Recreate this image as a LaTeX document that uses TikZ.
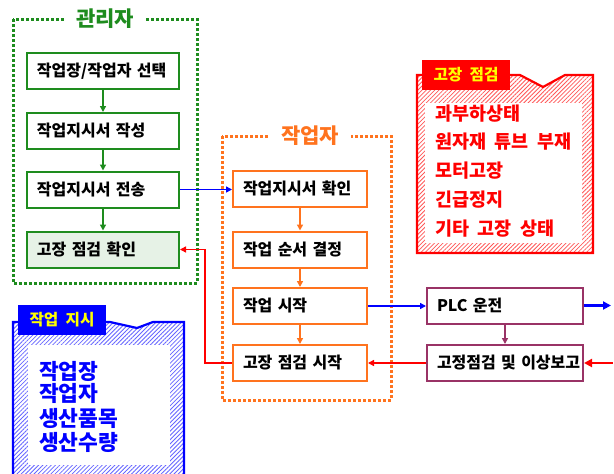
\documentclass[tikz,border=0pt]{standalone}
\usepackage{fontspec}
\newfontfamily\kr{Noto Sans CJK KR}[WordSpace=2]
\usetikzlibrary{arrows.meta,patterns.meta}
\definecolor{mgr}{RGB}{30,140,30}
\definecolor{wrk}{RGB}{255,115,30}
\definecolor{plcc}{RGB}{153,51,102}
\definecolor{rd}{RGB}{255,0,0}
\definecolor{bl}{RGB}{0,0,255}
\definecolor{yl}{RGB}{255,255,0}
\tikzset{
  boxtext/.style={font=\kr\bfseries\fontsize{16}{19}\selectfont},
  stepbox/.style={draw=#1, line width=2pt, fill=white, minimum height=36pt,
    inner xsep=10pt, inner ysep=0pt, align=left, boxtext},
  mbox/.style={stepbox=mgr, text width=132pt},
  wbox/.style={stepbox=wrk, text width=114pt},
  pbox/.style={stepbox=plcc, text width=136pt},
  grp/.style={draw=#1, line width=3pt, dash pattern=on 3pt off 2pt},
  grptitle/.style={fill=white, text=#1, inner xsep=12pt, inner ysep=1pt,
    font=\kr\bfseries\fontsize{21}{24}\selectfont},
  tip/.style={-{Triangle[length=6pt,width=6pt]}},
  conn/.style={#1, line width=1.6pt, tip},
  thick conn/.style={#1, line width=2.6pt, -{Triangle[length=8pt,width=8pt]}},
  tabbox/.style={fill=#1, inner sep=0pt, text=yl,
    font=\kr\bfseries\fontsize{15.7}{18}\selectfont},
  redtext/.style={anchor=west, text=rd, inner sep=0pt,
    font=\kr\bfseries\fontsize{18.5}{21}\selectfont},
  bluetext/.style={anchor=west, text=bl, inner sep=0pt,
    font=\kr\bfseries\fontsize{21.5}{24}\selectfont},
}
\begin{document}
\begin{tikzpicture}[x=1pt,y=-1pt]
\clip (0,0) rectangle (614,474);
\fill[white] (0,0) rectangle (614,474);

% ---------- manager group ----------
\draw[grp=mgr] (13,19) rectangle (197,283);
\node[grptitle=mgr] (mtitle) at (105,19) {관리자};
\node[mbox] (m1) at (103,71) {작업장/작업자 선택};
\node[mbox] (m2) at (103,131) {작업지시서 작성};
\node[mbox] (m3) at (103,189.5) {작업지시서 전송};
\node[mbox, preaction={fill=mgr!8}, pattern={Dots[distance=2pt,radius=0.35pt]}, pattern color=mgr!45] (m4) at (103,249.5) {고장 점검 확인};
\draw[conn=mgr] (m1) -- (m2);
\draw[conn=mgr] (m2) -- (m3);
\draw[conn=mgr] (m3) -- (m4);

% ---------- worker group ----------
\draw[grp=wrk] (222,136) rectangle (391,400);
\node[grptitle=wrk] (wtitle) at (310,136) {작업자};
\node[wbox] (w1) at (300,188.5) {작업지시서 확인};
\node[wbox] (w2) at (300,249.5) {작업 순서 결정};
\node[wbox] (w3) at (300,306) {작업 시작};
\node[wbox] (w4) at (300,363) {고장 점검 시작};
\draw[conn=wrk] (w1) -- (w2);
\draw[conn=wrk] (w2) -- (w3);
\draw[conn=wrk] (w3) -- (w4);

% ---------- PLC side ----------
\node[pbox] (plc) at (505,305.5) {PLC 운전};
\node[pbox] (rep) at (505,363) {\mbox{고정점검 및 이상보고}};
\draw[conn=plcc] (plc) -- (rep);

% ---------- cross connectors ----------
\draw[conn=bl] (m3.east) -- (m3.east -| w1.west);
\draw[conn=bl] (w3.east) -- (w3.east -| plc.west);
\coordinate (rx) at (205,0);
\draw[conn=rd] (w4.west) -- (w4.west -| rx) |- (m4.east);
\draw[conn=rd] (rep.west) -- (rep.west -| w4.east);
\coordinate (plcout) at (611,305.5);
\coordinate (repin) at (613,363);
\draw[thick conn=bl] (plc.east) -- (plcout);
\draw[thick conn=rd] (repin) -- (rep.east);

% ---------- fault check callout ----------
\draw[rd, line width=2.2pt, pattern={Lines[angle=45,distance=3pt,line width=0.8pt]}, pattern color=rd!65]
  (417,75) -- (520,75) -- (543,87) -- (565,75) -- (593,75) -- (593,253) -- (417,253) -- cycle;
\fill[white] (425,103) rectangle (582,243);
\node[tabbox=rd, minimum width=88pt, minimum height=30pt] (ftab) at (466,75) {고장 점검};
\node[redtext] (f1) at (435,114) {과부하상태};
\node[redtext] (f2) at (435,142) {원자재 튜브 부재};
\node[redtext] (f3) at (435,171) {모터고장};
\node[redtext] (f4) at (435,200) {긴급정지};
\node[redtext] (f5) at (435,229) {기타 고장 상태};

% ---------- work order callout ----------
\draw[bl, line width=2.2pt, pattern={Lines[angle=45,distance=3pt,line width=0.8pt]}, pattern color=bl!60]
  (13,322) -- (110,322) -- (137,328) -- (153,322) -- (184,322) -- (184,490) -- (13,490) -- cycle;
\fill[white] (28,345) rectangle (170,465);
\node[tabbox=bl, minimum width=88pt, minimum height=30pt] (otab) at (62,320) {작업 지시};
\node[bluetext] (o1) at (39,371) {작업장};
\node[bluetext] (o2) at (39,393) {작업자};
\node[bluetext] (o3) at (39,418) {생산품목};
\node[bluetext] (o4) at (39,442) {생산수량};
\end{tikzpicture}
\end{document}
